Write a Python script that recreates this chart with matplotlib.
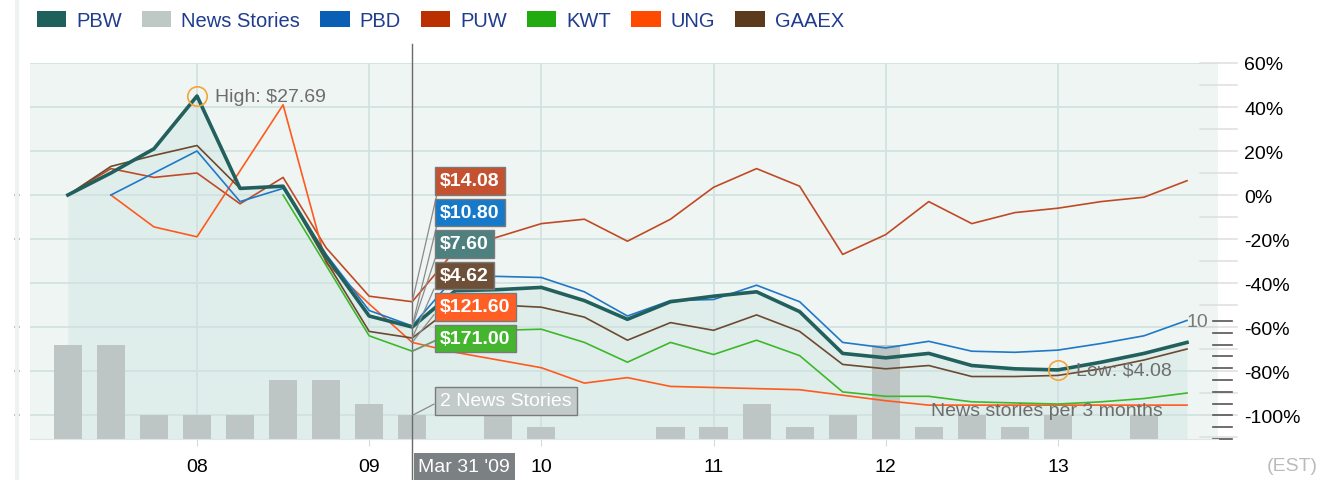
import matplotlib

matplotlib.use("Agg")
import matplotlib.pyplot as plt
import numpy as np
from matplotlib.lines import Line2D
from matplotlib.patches import Patch
from matplotlib.transforms import blended_transform_factory

plt.rcParams["font.family"] = ["Liberation Sans", "DejaVu Sans"]

nan = np.nan

# quarter ends, as decimal years
QUARTERS = [2007.25, 2007.5, 2007.75, 2008.0, 2008.25, 2008.5, 2008.75, 2009.0, 2009.25,
            2009.5, 2009.75, 2010.0, 2010.25, 2010.5, 2010.75, 2011.0, 2011.25, 2011.5,
            2011.75, 2012.0, 2012.25, 2012.5, 2012.75, 2013.0, 2013.25, 2013.5, 2013.75]

NEWS = [8, 8, 2, 2, 2, 5, 5, 3, 2, 0, 2, 1, 0, 0, 1, 1, 3, 1, 2, 8, 1, 2, 1, 2, 0, 2, 0]

# % change since first quote
PBW = [0, 10, 21, 45, 3, 4, -28, -55, -60, -43.5, -43, -42, -48, -56.5, -48.5, -46, -44, -53,
       -72, -74, -72, -77.5, -79, -79.5, -76, -72, -67]
PBD = [nan, 0, 10, 20, -3, 3, -27, -52.5, -59.5, -37, -37, -37.5, -44, -55, -48, -47.5, -41,
       -48.5, -67, -69.5, -66.5, -71, -71.5, -70.5, -67.5, -64, -57]
PUW = [0, 12, 8, 10, -4, 8, -24, -46, -48.5, -25, -19, -13, -11, -21, -11, 3.5, 12, 4, -27,
       -18, -3, -13, -8, -6, -3, -1, 6.5]
KWT = [nan, nan, nan, nan, nan, 0, -32, -64, -71, -62, -61.5, -61, -67, -76, -67, -72.5, -66,
       -73, -89.5, -91.5, -91.5, -94, -94.5, -95, -94, -92.5, -90]
UNG = [nan, 0, -14.5, -19, 11, 41, -31, -49.5, -67, -71.5, -75, -78.5, -85.5, -83, -87, -87.5,
       -88, -88.5, -91, -93.5, -95.5, -95.5, -95.5, -95.5, -95.5, -95.5, -95.5]
GAAEX = [0, 13, 18, 22.5, 3, 4, -30, -62, -65, -50, -50, -51, -55.5, -66, -58, -61.5, -54.5,
         -62, -77, -79, -77.5, -82.5, -82.5, -82, -79, -75, -70]

YEAR_TICKS = [2008, 2009, 2010, 2011, 2012, 2013]
YEAR_LABELS = ["08", "09", "10", "11", "12", "13"]
PCT_TICKS = [60, 40, 20, 0, -20, -40, -60, -80, -100]

CURSOR = 8  # Mar 31 '09
CURSOR_LABEL = "Mar 31 '09"
CURSOR_PRICES = [("PUW", "$14.08"), ("PBD", "$10.80"), ("PBW", "$7.60"),
                 ("GAAEX", "$4.62"), ("UNG", "$121.60"), ("KWT", "$171.00")]
HIGH_LABEL = "High: $27.69"
LOW_LABEL = "Low: $4.08"

LINE_COLORS = {"PBW": "#21605c", "PBD": "#1f78c8", "PUW": "#c04a26", "KWT": "#3cb82a",
               "UNG": "#ff5a1e", "GAAEX": "#6b4a30"}
BOX_COLORS = {"PBW": "#4e8080", "PBD": "#1679c9", "PUW": "#c4512f", "KWT": "#45b52f",
              "UNG": "#ff5f25", "GAAEX": "#6e5039"}
LEGEND = [("PBW", "#1d605c"), ("News Stories", "#bec9c6"), ("PBD", "#0a5fb4"),
          ("PUW", "#bb3000"), ("KWT", "#22aa11"), ("UNG", "#ff4b00"), ("GAAEX", "#5c3a1c")]

series = {"PBW": PBW, "PBD": PBD, "PUW": PUW, "KWT": KWT, "UNG": UNG, "GAAEX": GAAEX}

W, H = 1323, 481
L, R, T, B = 30, 1218, 64, 440
YTOP, YBOT = 60, -110.9
NEWS_UNIT = 5.36  # % of axis per story

fig = plt.figure(figsize=(W / 100, H / 100), dpi=100)
ax = fig.add_axes([L / W, 1 - B / H, (R - L) / W, (B - T) / H])
ax.set_facecolor("#eff5f2")
ax.set_xlim(2007.03, 2013.93)
ax.set_ylim(YBOT, YTOP)
for side in ("top", "left", "right"):
    ax.spines[side].set_visible(False)
ax.spines["bottom"].set_color("#dfe6e4")

x = np.array(QUARTERS)

# axes / grid
ax.set_xticks(YEAR_TICKS, YEAR_LABELS, fontsize=14)
ax.tick_params(axis="x", length=5, color="#d5dbd9", pad=9)
ax.yaxis.tick_right()
ax.set_yticks(PCT_TICKS, [f"{v}%" for v in PCT_TICKS], fontsize=14)
ax.tick_params(axis="y", length=0, pad=19)
ax.grid(color="#cfe1e0", linewidth=1.2, zorder=0.5)
ax.set_axisbelow(True)

bl = blended_transform_factory(ax.transAxes, ax.transData)
for v in range(60, -111, -10):
    ax.plot([0.985, 1.016], [v, v], transform=bl, color="#dedede", lw=1.1, clip_on=False)
for v in PCT_TICKS[3:]:
    if v != -40:
        ax.plot([-0.0126, -0.0093], [v, v], transform=bl, color="#9aa3a1", lw=1.2, clip_on=False)
for n in range(11):
    yv = YBOT + n * NEWS_UNIT
    ax.plot([0.9958, 1.0118], [yv, yv], transform=bl, color="#555555", lw=1.2, clip_on=False)
ax.text(0.9916, YBOT + 10 * NEWS_UNIT, "10", transform=bl, ha="right", va="center",
        fontsize=14, color="#7a7a7a")
fig.add_artist(Line2D([17 / W, 17 / W], [0, 1], transform=fig.transFigure, color="#eef3f1", lw=3))

# PBW area + news bars
ax.fill_between(x, PBW, YBOT, color="#e0eeeb", zorder=0.3, lw=0)
ax.bar(x, np.array(NEWS) * NEWS_UNIT, bottom=YBOT, width=0.163, color="#bdc6c5", zorder=1)

for name in ["PUW", "UNG", "KWT", "GAAEX", "PBD"]:
    ax.plot(x, series[name], color=LINE_COLORS[name], lw=1.2, zorder=3)
ax.plot(x, PBW, color=LINE_COLORS["PBW"], lw=2.6, zorder=4)

# high / low markers
hi = int(np.nanargmax(PBW))
lo = int(np.nanargmin(PBW))
for i, label in ((hi, HIGH_LABEL), (lo, LOW_LABEL)):
    ax.plot(x[i], PBW[i], "o", ms=14, mfc="none", mec="#f5a43a", mew=1.2, zorder=6)
    ax.annotate(label, (x[i], PBW[i]), xytext=(13, 0), textcoords="offset points",
                fontsize=14, color="#6d6d6d", va="center", zorder=6)

ax.text(0.9537, 0.077, "News stories per 3 months", transform=ax.transAxes, ha="right",
        va="center", fontsize=14, color="#6d6d6d", zorder=6)

# cursor
xc = x[CURSOR]
ax.axvline(xc, ymin=-0.109, ymax=1.05, color="#6a6a6a", lw=1, clip_on=False, zorder=7)
bx = blended_transform_factory(ax.transData, ax.transAxes)
ax.annotate(CURSOR_LABEL, (xc, -0.074), xycoords=bx, xytext=(4.5, 0), textcoords="offset points",
            ha="left", va="center", fontsize=14, color="white",
            bbox=dict(boxstyle="square,pad=0.25", fc="#7b8082", ec="none"),
            annotation_clip=False, zorder=8)

box_x = 440
box_y0 = H - 182
box_step = 31.5
for k, (name, price) in enumerate(CURSOR_PRICES):
    ax.annotate(price, (xc, series[name][CURSOR]), xytext=(box_x, box_y0 - k * box_step),
                textcoords="figure pixels", fontsize=14, fontweight="bold", color="white",
                va="center", ha="left",
                bbox=dict(boxstyle="square,pad=0.28", fc=BOX_COLORS[name], ec="#7a7a7a", lw=1),
                arrowprops=dict(arrowstyle="-", color="#8a8a8a", lw=0.9, shrinkA=0, shrinkB=0,
                                relpos=(0, 0.5)),
                zorder=9)
ax.annotate(f"{NEWS[CURSOR]} News Stories", (xc, YBOT + NEWS[CURSOR] * NEWS_UNIT),
            xytext=(box_x, H - 402), textcoords="figure pixels", fontsize=14, color="white",
            va="center", ha="left",
            bbox=dict(boxstyle="square,pad=0.28", fc="#c3cbca", ec="#7a7a7a", lw=1),
            arrowprops=dict(arrowstyle="-", color="#8a8a8a", lw=0.9, shrinkA=0, shrinkB=0,
                            relpos=(0, 0.5)),
            zorder=9)

fig.text(1318 / W, 1 - 467 / H, "(EST)", ha="right", va="center", fontsize=14, color="#bbbbbb")

handles = [Patch(facecolor=c, edgecolor="none") for _, c in LEGEND]
leg = fig.legend(handles, [n for n, _ in LEGEND], loc="upper left",
                 bbox_to_anchor=(37 / W, 1 - 12 / H), ncol=7, frameon=False, fontsize=14.5,
                 handlelength=1.45, handleheight=0.85, handletextpad=0.5, columnspacing=1.0,
                 borderaxespad=0, borderpad=0)
for t in leg.get_texts():
    t.set_color("#1f3c8f")

fig.savefig("out.png", dpi=100)
